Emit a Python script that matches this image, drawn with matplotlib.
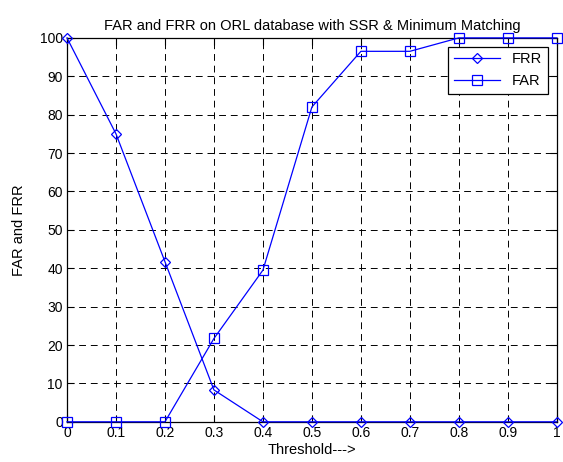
import numpy as np
import matplotlib
matplotlib.use("Agg")
import matplotlib.pyplot as plt

# data
threshold = [0, 0.1, 0.2, 0.3, 0.4, 0.5, 0.6, 0.7, 0.8, 0.9, 1.0]
frr = [100, 75, 41.7, 8.3, 0, 0, 0, 0, 0, 0, 0]
far = [0, 0, 0, 21.7, 39.5, 82, 96.5, 96.5, 100, 100, 100]
x_ticks = [0, 0.1, 0.2, 0.3, 0.4, 0.5, 0.6, 0.7, 0.8, 0.9, 1]
x_labels = ["0", "0.1", "0.2", "0.3", "0.4", "0.5", "0.6", "0.7", "0.8", "0.9", "1"]
y_ticks = list(range(0, 101, 10))

plt.rcParams["font.family"] = ["Liberation Sans", "DejaVu Sans"]

fig = plt.figure(figsize=(5.63, 4.62), dpi=100)
ax = fig.add_axes([0.119, 0.087, 0.870, 0.831])

ax.plot(threshold, frr, color="#0000ff", lw=0.9, marker="D", ms=5.5,
        mfc="none", mec="#0000ff", mew=0.9, label="FRR", clip_on=False, zorder=3)
ax.plot(threshold, far, color="#0000ff", lw=0.9, marker="s", ms=6.5,
        mfc="none", mec="#0000ff", mew=0.9, label="FAR", clip_on=False, zorder=3)

ax.set_xlim(0, 1)
ax.set_ylim(0, 100)
ax.set_xticks(x_ticks)
ax.set_xticklabels(x_labels)
ax.set_yticks(y_ticks)
ax.grid(True, color="black", ls=(0, (7, 5)), lw=0.7)
ax.tick_params(direction="in", length=5, labelsize=10, pad=3, top=True, right=True)
for s in ax.spines.values():
    s.set_linewidth(0.9)

ax.set_title("FAR and FRR on ORL database with SSR & Minimum Matching", fontsize=10.5, pad=6)
ax.set_xlabel("Threshold--->", fontsize=10.5, labelpad=2)
ax.set_ylabel("FAR and FRR", fontsize=10.5, labelpad=10)

leg = ax.legend(loc="upper right", fontsize=10.5, fancybox=False, framealpha=1,
                edgecolor="black", borderaxespad=0.6, handlelength=3.2)
leg.get_frame().set_linewidth(0.9)

fig.savefig("out.png", dpi=100)
